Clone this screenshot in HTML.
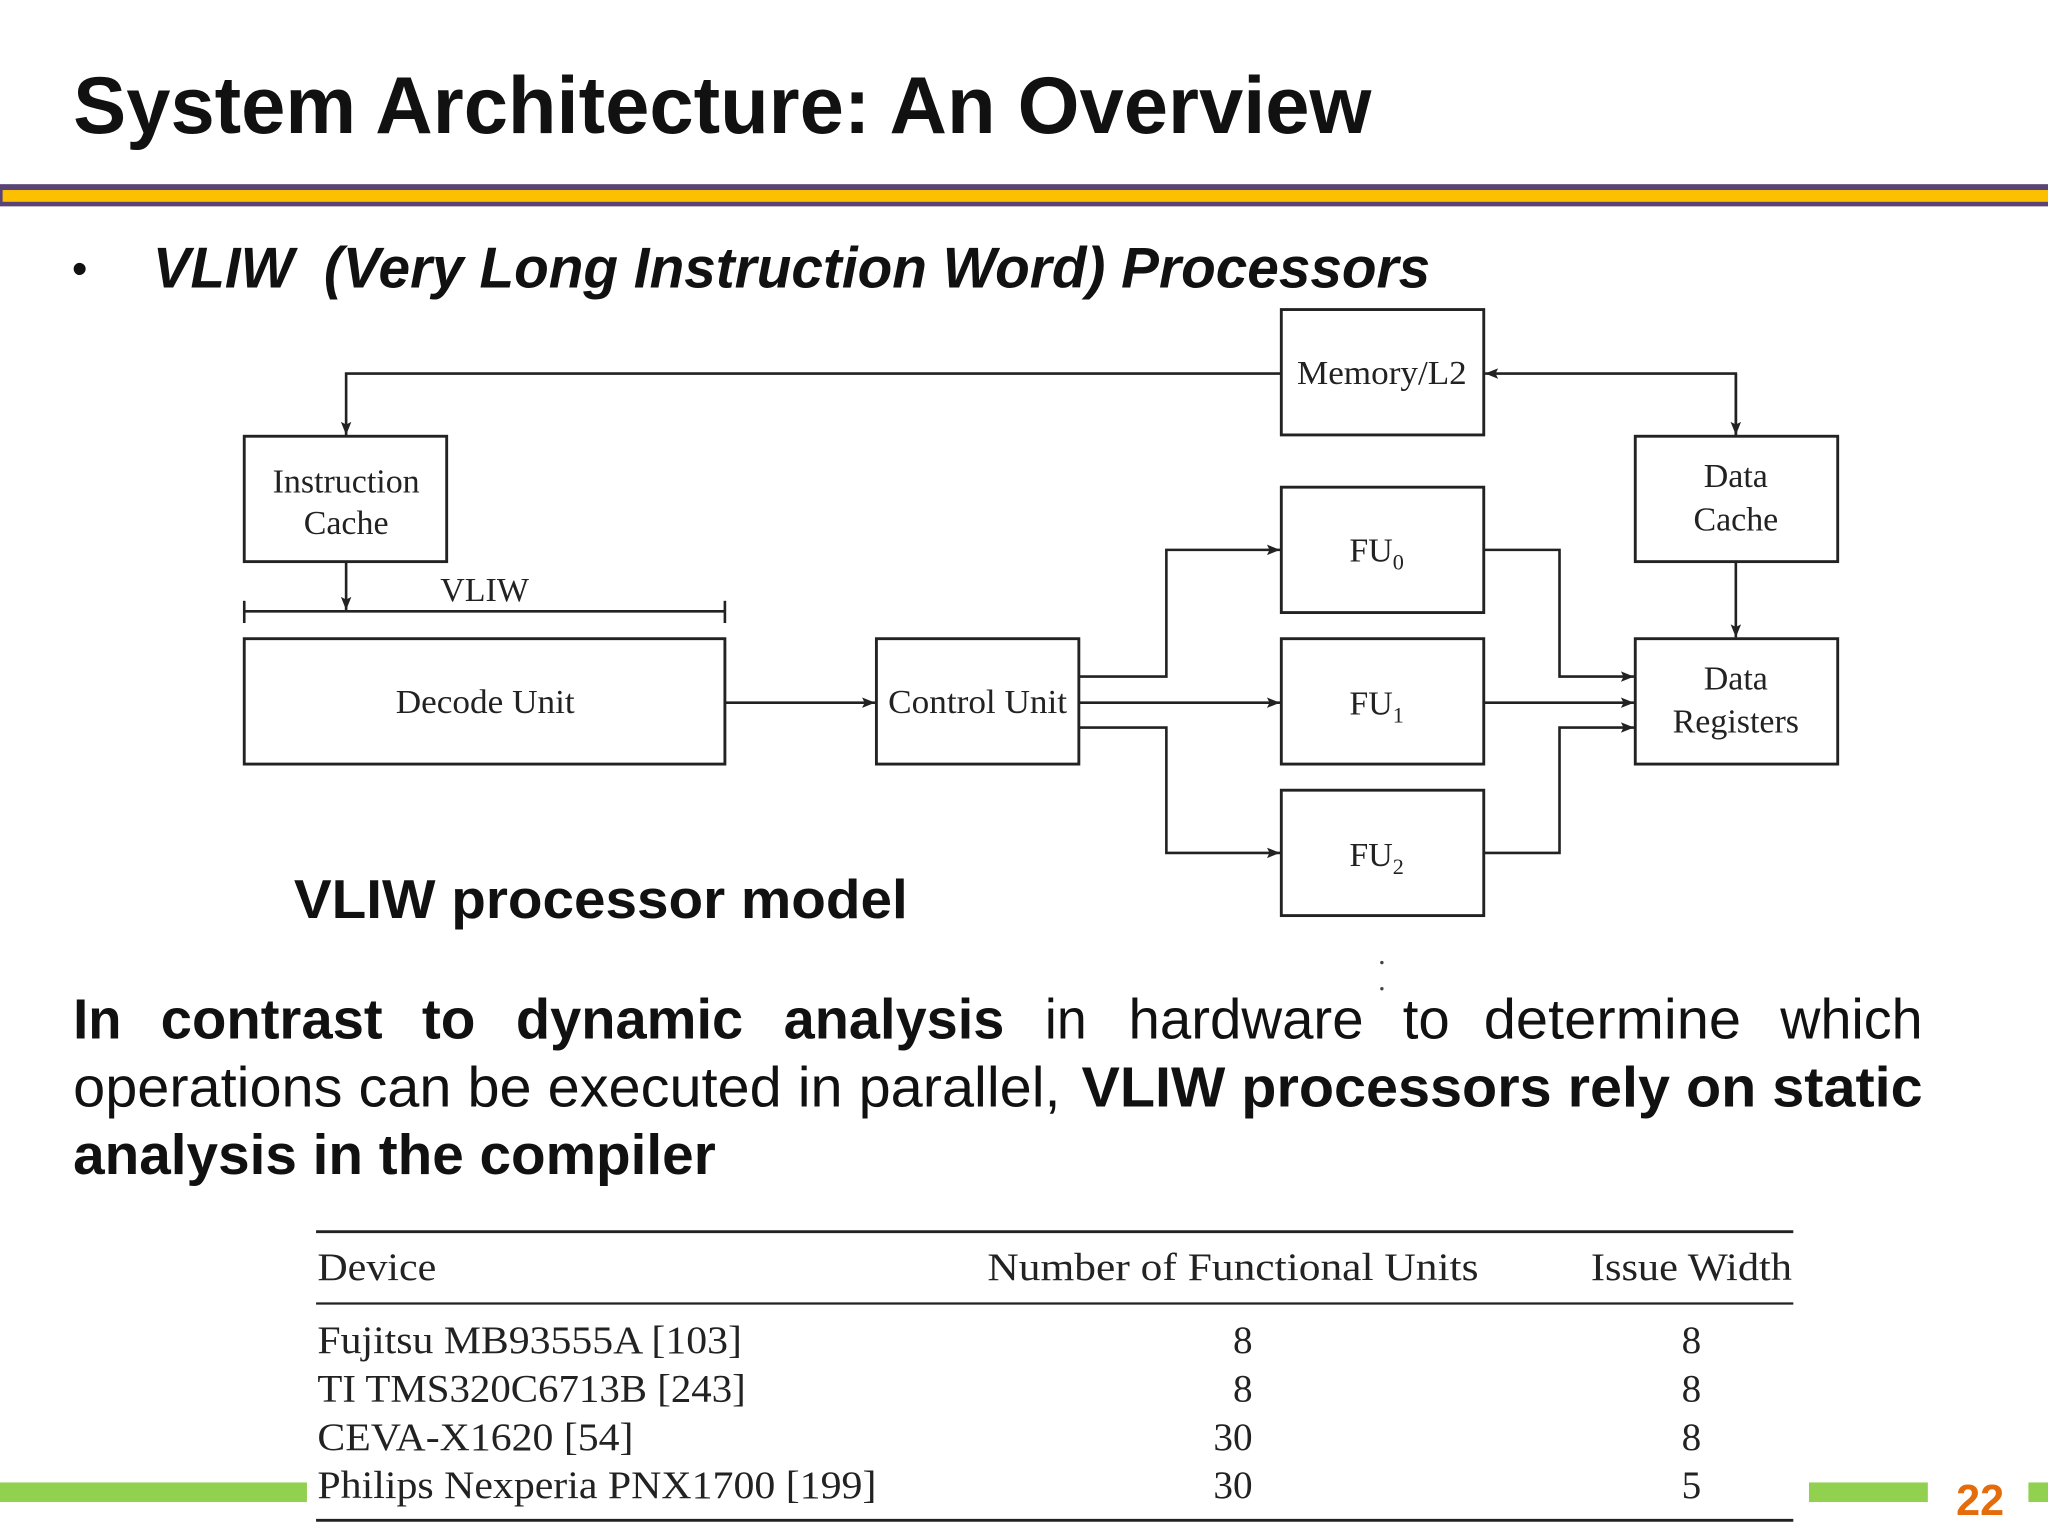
<!DOCTYPE html>
<html><head><meta charset="utf-8"><style>html,body{margin:0;padding:0;background:#fff}svg{display:block}</style></head>
<body>
<svg width="2048" height="1536" viewBox="0 0 1568 1176" xmlns="http://www.w3.org/2000/svg">
<defs><marker id="a" markerWidth="10" markerHeight="8" refX="10" refY="4" orient="auto" markerUnits="userSpaceOnUse"><path d="M0,0 L10,4 L0,8 L2,4 z" fill="#222"/></marker></defs>
<rect width="1568" height="1176" fill="#fff"/>
<text x="56" y="102" font-family="Liberation Sans,sans-serif" font-weight="bold" font-size="62" textLength="994" lengthAdjust="spacingAndGlyphs" fill="#111">System Architecture: An Overview</text>
<rect x="0" y="141" width="1568" height="17" fill="#5a4475"/>
<rect x="2" y="145.5" width="1566" height="9" fill="#fdc000"/>
<text x="55" y="217" font-family="Liberation Sans,sans-serif" font-size="34" fill="#111">•</text>
<g font-family="Liberation Sans,sans-serif" font-weight="bold" font-style="italic" font-size="44" fill="#111">
<text x="117" y="220" textLength="108" lengthAdjust="spacingAndGlyphs">VLIW</text>
<text x="248" y="220" textLength="847" lengthAdjust="spacingAndGlyphs">(Very Long Instruction Word) Processors</text>
</g>
<g fill="none" stroke="#222" stroke-width="2.2">
<rect x="981" y="237" width="155" height="96"/>
<rect x="187" y="334" width="155" height="96"/>
<rect x="1252" y="334" width="155" height="96"/>
<rect x="981" y="373" width="155" height="96"/>
<rect x="981" y="489" width="155" height="96"/>
<rect x="981" y="605" width="155" height="96"/>
<rect x="187" y="489" width="368" height="96"/>
<rect x="671" y="489" width="155" height="96"/>
<rect x="1252" y="489" width="155" height="96"/>
</g>
<g fill="none" stroke="#222" stroke-width="2">
<polyline points="981,286 265,286 265,333" marker-end="url(#a)"/>
<polyline points="1329,333 1329,286 1137,286" marker-end="url(#a)"/>
<polyline points="1329,286 1329,333" marker-end="url(#a)"/>
<line x1="187" y1="468" x2="555" y2="468"/>
<line x1="187" y1="460" x2="187" y2="477"/>
<line x1="555" y1="460" x2="555" y2="477"/>
<line x1="265" y1="430" x2="265" y2="467" marker-end="url(#a)"/>
<line x1="555" y1="538" x2="670" y2="538" marker-end="url(#a)"/>
<line x1="826" y1="538" x2="980" y2="538" marker-end="url(#a)"/>
<polyline points="826,518 893,518 893,421 980,421" marker-end="url(#a)"/>
<polyline points="826,557 893,557 893,653 980,653" marker-end="url(#a)"/>
<polyline points="1136,421 1194,421 1194,518 1251,518" marker-end="url(#a)"/>
<line x1="1136" y1="538" x2="1251" y2="538" marker-end="url(#a)"/>
<polyline points="1136,653 1194,653 1194,557 1251,557" marker-end="url(#a)"/>
<line x1="1329" y1="430" x2="1329" y2="488" marker-end="url(#a)"/>
</g>
<g font-family="Liberation Serif,serif" font-size="26" fill="#222" text-anchor="middle">
<text x="265" y="377">Instruction</text>
<text x="265" y="409">Cache</text>
<text x="1329" y="373">Data</text>
<text x="1329" y="406">Cache</text>
<text x="1329" y="528">Data</text>
<text x="1329" y="561">Registers</text>
<text x="371" y="460">VLIW</text>
<text x="1054" y="430">FU<tspan font-size="17" dy="6">0</tspan></text>
<text x="1054" y="547">FU<tspan font-size="17" dy="6">1</tspan></text>
<text x="1054" y="663">FU<tspan font-size="17" dy="6">2</tspan></text>
</g>
<g font-family="Liberation Serif,serif" font-size="26" fill="#222">
<text x="993" y="294" textLength="130" lengthAdjust="spacingAndGlyphs">Memory/L2</text>
<text x="303" y="546" textLength="137" lengthAdjust="spacingAndGlyphs">Decode Unit</text>
<text x="680" y="546" textLength="137" lengthAdjust="spacingAndGlyphs">Control Unit</text>
</g>
<text x="225" y="703" font-family="Liberation Sans,sans-serif" font-weight="bold" font-size="42" textLength="470" lengthAdjust="spacingAndGlyphs" fill="#111">VLIW processor model</text>
<circle cx="1058" cy="737" r="1.3" fill="#444"/><circle cx="1058" cy="757" r="1.3" fill="#444"/>
<g font-family="Liberation Sans,sans-serif" font-size="43" fill="#111" lengthAdjust="spacingAndGlyphs">
<text x="56" y="795" font-weight="bold" textLength="37" lengthAdjust="spacingAndGlyphs">In</text>
<text x="123" y="795" font-weight="bold" textLength="170" lengthAdjust="spacingAndGlyphs">contrast</text>
<text x="323" y="795" font-weight="bold" textLength="41" lengthAdjust="spacingAndGlyphs">to</text>
<text x="395" y="795" font-weight="bold" textLength="174" lengthAdjust="spacingAndGlyphs">dynamic</text>
<text x="600" y="795" font-weight="bold" textLength="169" lengthAdjust="spacingAndGlyphs">analysis</text>
<text x="800" y="795" textLength="32" lengthAdjust="spacingAndGlyphs">in</text>
<text x="864" y="795" textLength="180" lengthAdjust="spacingAndGlyphs">hardware</text>
<text x="1074" y="795" textLength="36" lengthAdjust="spacingAndGlyphs">to</text>
<text x="1136" y="795" textLength="197" lengthAdjust="spacingAndGlyphs">determine</text>
<text x="1363" y="795" textLength="109" lengthAdjust="spacingAndGlyphs">which</text>
<text x="56" y="847" textLength="756" lengthAdjust="spacingAndGlyphs">operations can be executed in parallel,</text>
<text x="828" y="847" font-weight="bold" textLength="644" lengthAdjust="spacingAndGlyphs">VLIW processors rely on static</text>
<text x="56" y="899" font-weight="bold" textLength="492" lengthAdjust="spacingAndGlyphs">analysis in the compiler</text>
</g>
<g stroke="#222">
<line x1="242" y1="943" x2="1373" y2="943" stroke-width="2.2"/>
<line x1="242" y1="998" x2="1373" y2="998" stroke-width="1.8"/>
<line x1="242" y1="1164" x2="1373" y2="1164" stroke-width="2.2"/>
</g>
<g font-family="Liberation Serif,serif" font-size="30" fill="#222">
<text x="243" y="980" textLength="91" lengthAdjust="spacingAndGlyphs">Device</text>
<text x="756" y="980" textLength="376" lengthAdjust="spacingAndGlyphs">Number of Functional Units</text>
<text x="1218" y="980" textLength="154" lengthAdjust="spacingAndGlyphs">Issue Width</text>
<text x="243" y="1036" textLength="325" lengthAdjust="spacingAndGlyphs">Fujitsu MB93555A [103]</text>
<text x="243" y="1073" textLength="328" lengthAdjust="spacingAndGlyphs">TI TMS320C6713B [243]</text>
<text x="243" y="1110" textLength="242" lengthAdjust="spacingAndGlyphs">CEVA-X1620 [54]</text>
<text x="243" y="1147" textLength="428" lengthAdjust="spacingAndGlyphs">Philips Nexperia PNX1700 [199]</text>
<g text-anchor="end"><text x="959" y="1036">8</text><text x="959" y="1073">8</text><text x="959" y="1110">30</text><text x="959" y="1147">30</text></g>
<g text-anchor="middle"><text x="1295" y="1036">8</text><text x="1295" y="1073">8</text><text x="1295" y="1110">8</text><text x="1295" y="1147">5</text></g>
</g>
<rect x="0" y="1135" width="235" height="15" fill="#92d050"/>
<rect x="1385" y="1135" width="91" height="15" fill="#92d050"/>
<rect x="1553" y="1135" width="15" height="15" fill="#92d050"/>
<text x="1516" y="1160" text-anchor="middle" font-family="Liberation Sans,sans-serif" font-weight="bold" font-size="33" fill="#e46c0a">22</text>
</svg>
</body></html>
